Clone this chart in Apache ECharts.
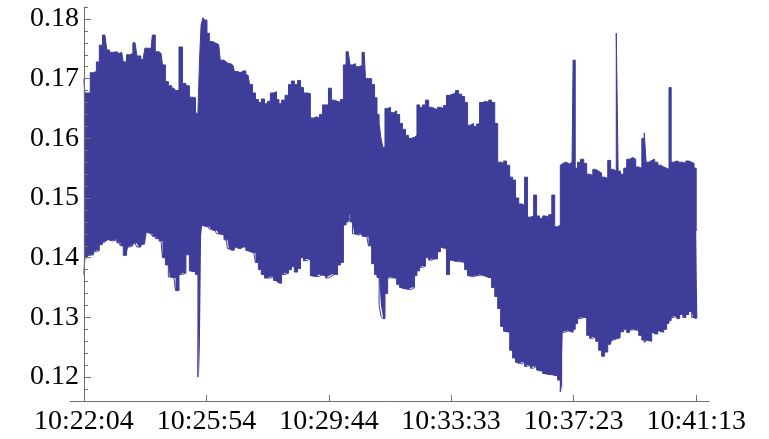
<!DOCTYPE html>
<html>
<head>
<meta charset="utf-8">
<script src="https://cdn.jsdelivr.net/npm/echarts@6/dist/echarts.min.js"></script>
<style>
  html, body {margin: 0; padding: 0; background: #fff;}
  #chart {width: 769px; height: 439px;}
</style>
</head>
<body>
<div id="chart"></div>
<script>
// time tick labels (clock time), x data is seconds after the first tick
const tickLabels = ["10:22:04", "10:25:54", "10:29:44", "10:33:33", "10:37:23", "10:41:13"];
const yTickValues = [0.12, 0.13, 0.14, 0.15, 0.16, 0.17, 0.18];

// sample times (s) with the upper / lower envelope of the signal
const seconds = [
  0, 4, 9, 15, 21, 26, 32, 38, 41, 45, 51, 58, 66, 71, 77, 83, 88, 96, 103, 111,
  118, 126, 131, 137, 145, 150, 156, 161, 169, 175, 182, 188, 195, 201, 207, 212, 216, 218, 222, 225,
  229, 233, 238, 246, 253, 259, 267, 272, 280, 285, 293, 300, 308, 314, 319, 325, 330, 336, 342, 347,
  353, 359, 364, 368, 374, 381, 387, 392, 398, 404, 409, 415, 422, 428, 434, 439, 445, 451, 456, 462,
  467, 473, 479, 484, 490, 494, 498, 501, 507, 513, 518, 526, 531, 537, 543, 548, 552, 556, 559, 563,
  567, 573, 578, 584, 590, 595, 601, 606, 612, 618, 623, 627, 633, 638, 644, 650, 655, 661, 666, 672,
  678, 683, 689, 695, 700, 706, 712, 717, 723, 728, 734, 740, 745, 751, 757, 762, 768, 774, 779, 785,
  790, 796, 802, 807, 813, 819, 824, 830, 835, 841, 847, 852, 858, 864, 869, 875, 881, 886, 892, 896,
  899, 905, 911, 916, 920, 924, 929, 935, 941, 946, 952, 958, 963, 969, 974, 980, 986, 991, 997, 1001,
  1004, 1010, 1016, 1021, 1027, 1033, 1038, 1044, 1050, 1053, 1057, 1063, 1068, 1074, 1080, 1085, 1091, 1096, 1100, 1104,
  1110, 1115, 1121, 1127, 1132, 1138, 1143, 1147, 1151
];
const upper = [
  0.1700, 0.1676, 0.1676, 0.1710, 0.1712, 0.1728, 0.1756, 0.1773, 0.1773, 0.1748, 0.1744, 0.1745, 0.1742, 0.1744, 0.1728, 0.1740, 0.1742, 0.1760, 0.1738, 0.1732,
  0.1751, 0.1750, 0.1773, 0.1745, 0.1742, 0.1723, 0.1695, 0.1688, 0.1684, 0.1680, 0.1753, 0.1692, 0.1688, 0.1669, 0.1668, 0.1642, 0.1640, 0.1731, 0.1790, 0.1802,
  0.1798, 0.1776, 0.1762, 0.1760, 0.1757, 0.1731, 0.1728, 0.1725, 0.1722, 0.1712, 0.1710, 0.1713, 0.1706, 0.1690, 0.1676, 0.1665, 0.1660, 0.1666, 0.1658, 0.1662,
  0.1676, 0.1678, 0.1665, 0.1658, 0.1664, 0.1672, 0.1690, 0.1696, 0.1690, 0.1697, 0.1685, 0.1676, 0.1675, 0.1634, 0.1636, 0.1634, 0.1640, 0.1656, 0.1656, 0.1684,
  0.1664, 0.1662, 0.1660, 0.1665, 0.1723, 0.1745, 0.1742, 0.1723, 0.1725, 0.1720, 0.1722, 0.1744, 0.1700, 0.1700, 0.1690, 0.1668, 0.1640, 0.1625, 0.1600, 0.1585,
  0.1650, 0.1652, 0.1643, 0.1646, 0.1640, 0.1625, 0.1615, 0.1605, 0.1600, 0.1602, 0.1605, 0.1656, 0.1652, 0.1656, 0.1664, 0.1652, 0.1650, 0.1648, 0.1652, 0.1650,
  0.1655, 0.1672, 0.1674, 0.1676, 0.1680, 0.1674, 0.1670, 0.1660, 0.1622, 0.1625, 0.1620, 0.1624, 0.1660, 0.1662, 0.1660, 0.1664, 0.1660, 0.1625, 0.1560, 0.1558,
  0.1562, 0.1555, 0.1535, 0.1530, 0.1500, 0.1490, 0.1488, 0.1535, 0.1468, 0.1470, 0.1505, 0.1470, 0.1466, 0.1470, 0.1468, 0.1472, 0.1505, 0.1452, 0.1455, 0.1555,
  0.1558, 0.1560, 0.1557, 0.1560, 0.1731, 0.1550, 0.1560, 0.1565, 0.1558, 0.1540, 0.1538, 0.1548, 0.1545, 0.1542, 0.1535, 0.1533, 0.1563, 0.1548, 0.1545, 0.1776,
  0.1545, 0.1540, 0.1550, 0.1565, 0.1568, 0.1565, 0.1552, 0.1550, 0.1600, 0.1609, 0.1560, 0.1563, 0.1565, 0.1560, 0.1555, 0.1552, 0.1550, 0.1548, 0.1685, 0.1560,
  0.1562, 0.1560, 0.1560, 0.1558, 0.1562, 0.1560, 0.1558, 0.1550, 0.1446
];
const lower = [
  0.1372, 0.1400, 0.1404, 0.1405, 0.1410, 0.1412, 0.1422, 0.1426, 0.1428, 0.1430, 0.1428, 0.1430, 0.1425, 0.1420, 0.1404, 0.1418, 0.1420, 0.1424, 0.1418, 0.1422,
  0.1443, 0.1440, 0.1436, 0.1432, 0.1428, 0.1400, 0.1388, 0.1368, 0.1366, 0.1345, 0.1372, 0.1374, 0.1405, 0.1378, 0.1376, 0.1372, 0.1200, 0.1437, 0.1454, 0.1455,
  0.1452, 0.1452, 0.1448, 0.1445, 0.1440, 0.1438, 0.1430, 0.1415, 0.1412, 0.1418, 0.1415, 0.1418, 0.1412, 0.1410, 0.1408, 0.1392, 0.1380, 0.1372, 0.1366, 0.1366,
  0.1368, 0.1362, 0.1360, 0.1357, 0.1372, 0.1374, 0.1380, 0.1385, 0.1376, 0.1382, 0.1400, 0.1395, 0.1398, 0.1370, 0.1368, 0.1369, 0.1372, 0.1370, 0.1366, 0.1369,
  0.1372, 0.1372, 0.1388, 0.1392, 0.1455, 0.1460, 0.1474, 0.1460, 0.1440, 0.1438, 0.1440, 0.1436, 0.1435, 0.1420, 0.1390, 0.1372, 0.1367, 0.1320, 0.1302, 0.1298,
  0.1340, 0.1366, 0.1368, 0.1365, 0.1355, 0.1350, 0.1348, 0.1347, 0.1347, 0.1350, 0.1370, 0.1378, 0.1384, 0.1386, 0.1400, 0.1396, 0.1398, 0.1398, 0.1410, 0.1418,
  0.1415, 0.1372, 0.1396, 0.1395, 0.1393, 0.1395, 0.1392, 0.1380, 0.1370, 0.1368, 0.1370, 0.1370, 0.1372, 0.1370, 0.1368, 0.1366, 0.1350, 0.1335, 0.1315, 0.1285,
  0.1277, 0.1275, 0.1245, 0.1232, 0.1225, 0.1222, 0.1225, 0.1218, 0.1220, 0.1215, 0.1218, 0.1212, 0.1210, 0.1206, 0.1205, 0.1204, 0.1204, 0.1202, 0.1195, 0.1175,
  0.1275, 0.1277, 0.1278, 0.1275, 0.1280, 0.1290, 0.1298, 0.1300, 0.1300, 0.1270, 0.1265, 0.1267, 0.1260, 0.1245, 0.1235, 0.1242, 0.1255, 0.1262, 0.1264, 0.1262,
  0.1265, 0.1276, 0.1280, 0.1275, 0.1279, 0.1280, 0.1278, 0.1270, 0.1262, 0.1258, 0.1262, 0.1260, 0.1275, 0.1272, 0.1278, 0.1275, 0.1280, 0.1290, 0.1295, 0.1300,
  0.1302, 0.1298, 0.1305, 0.1300, 0.1305, 0.1310, 0.1300, 0.1298, 0.1300
];

const toSec = (s) => {
  const [h, m, sec] = s.split(":").map(Number);
  return h * 3600 + m * 60 + sec;
};
const t0 = toSec(tickLabels[0]);
const tickSecs = tickLabels.map(l => toSec(l) - t0);

const lineColor = "#3e3d99";
const axisColor = "#707070";
const font = {fontFamily: "Liberation Serif", fontSize: 28, color: "#000"};

const chart = echarts.init(document.getElementById("chart"));
chart.setOption({
  animation: false,
  grid: {left: 70, right: 60, top: 7, bottom: 38, containLabel: false},
  xAxis: {
    type: "value",
    min: -26,
    max: 1173,
    z: 10,
    axisLine: {onZero: false, lineStyle: {color: axisColor, width: 1}},
    axisTick: {inside: true, length: 6, customValues: tickSecs, lineStyle: {color: axisColor}},
    axisLabel: {
      ...font,
      margin: 7,
      customValues: tickSecs,
      formatter: (v) => tickLabels[tickSecs.indexOf(Math.round(v))],
    },
    splitLine: {show: false},
  },
  yAxis: [
    {
      type: "value",
      position: "left",
      offset: -14,
      z: 10,
      min: 0.116,
      max: 0.182,
      axisLine: {show: true, onZero: false, lineStyle: {color: axisColor, width: 1}},
      axisTick: {inside: true, length: 7, customValues: yTickValues, lineStyle: {color: axisColor}},
      axisLabel: {...font, margin: 5, customValues: yTickValues, formatter: (v) => v.toFixed(2)},
      splitLine: {show: false},
    },
    {
      type: "value",
      position: "left",
      offset: -14,
      z: 10,
      min: 0.116,
      max: 0.182,
      interval: 0.002,
      axisLine: {show: false, onZero: false},
      axisTick: {show: true, inside: true, length: 4, lineStyle: {color: axisColor}},
      axisLabel: {show: false},
      splitLine: {show: false},
    },
  ],
  series: [
    {
      // lower envelope; value first so the stack is on y
      name: "low",
      type: "line",
      stack: "env",
      step: "middle",
      symbol: "none",
      silent: true,
      encode: {x: 1, y: 0},
      lineStyle: {color: lineColor, width: 1},
      data: lower.map((v, i) => [v, seconds[i]]),
    },
    {
      // band from lower to upper envelope
      name: "band",
      type: "line",
      stack: "env",
      step: "middle",
      symbol: "none",
      silent: true,
      encode: {x: 1, y: 0},
      lineStyle: {color: lineColor, width: 1},
      areaStyle: {color: lineColor, opacity: 1},
      data: upper.map((v, i) => [+(v - lower[i]).toFixed(4), seconds[i]]),
    },
  ],
});
</script>
</body>
</html>
